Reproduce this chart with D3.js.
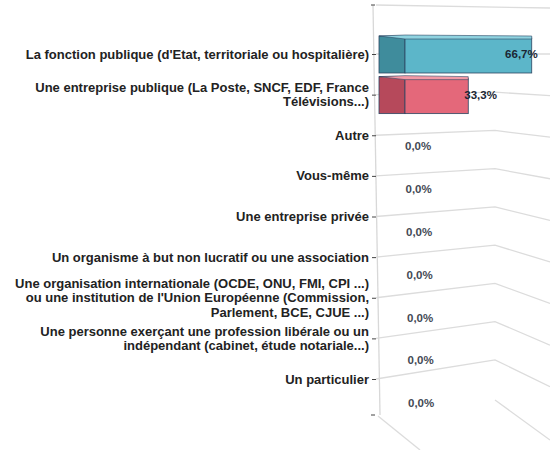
<!DOCTYPE html>
<html>
<head>
<meta charset="utf-8">
<script src="https://cdn.jsdelivr.net/npm/d3@7"></script>
<style>
  body { margin: 0; background: #fff; }
  text { font-family: "Liberation Sans", Arial, sans-serif; }
</style>
</head>
<body>
<div id="chart"></div>
<script>
// ========== Data ==========
const categories = [
  "La fonction publique (d'Etat, territoriale ou hospitalière)",
  "Une entreprise publique (La Poste, SNCF, EDF, France Télévisions...)",
  "Autre",
  "Vous-même",
  "Une entreprise privée",
  "Un organisme à but non lucratif ou une association",
  "Une organisation internationale (OCDE, ONU, FMI, CPI ...) ou une institution de l'Union Européenne (Commission, Parlement, BCE, CJUE ...)",
  "Une personne exerçant une profession libérale ou un indépendant (cabinet, étude notariale...)",
  "Un particulier"
];
const labelLines = [
  ["La fonction publique (d'Etat, territoriale ou hospitalière)"],
  ["Une entreprise publique (La Poste, SNCF, EDF, France", "Télévisions...)"],
  ["Autre"],
  ["Vous-même"],
  ["Une entreprise privée"],
  ["Un organisme à but non lucratif ou une association"],
  ["Une organisation internationale (OCDE, ONU, FMI, CPI ...)", "ou une institution de l'Union Européenne (Commission,", "Parlement, BCE, CJUE ...)"],
  ["Une personne exerçant une profession libérale ou un", "indépendant (cabinet, étude notariale...)"],
  ["Un particulier"]
];
const values = [66.7, 33.3, 0, 0, 0, 0, 0, 0, 0];
const barColors = ["#5cb6c9", "#e4687a"];
const sideColors = ["#3f8c9c", "#b6495b"];
const topColors = ["#8fd3e0", "#f29aa6"];

// ========== Setup ==========
const width = 550;
const height = 450;
const axisX = 376;
const sideW = 26;

const svg = d3.select("#chart").append("svg")
  .attr("width", width)
  .attr("height", height);

const y = d3.scalePoint().domain(categories).range([56, 381]);
const x = d3.scaleLinear().domain([0, 100]).range([axisX + sideW + 3, 595]);

const fmt = v => d3.format(".1f")(v).replace(".", ",") + "%";

// ========== Gridlines (perspective floor) ==========
const grid = svg.append("g").attr("fill", "none").attr("stroke", "#dcdcdc").attr("stroke-width", 1.3);

grid.append("line")
  .attr("x1", axisX).attr("y1", 5).attr("x2", width).attr("y2", 8);

categories.forEach((c, i) => {
  const y0 = y(c) - 2;
  const r = 2.4 * i;
  grid.append("polyline")
    .attr("points", [[axisX, y0], [495, y0 - r], [width, y0 - r + 1.4 * r]].join(" "));
});

grid.append("line")
  .attr("x1", axisX + 2).attr("y1", 416).attr("x2", 420).attr("y2", 450);
grid.append("line")
  .attr("x1", 495).attr("y1", 400).attr("x2", 550).attr("y2", 440);

// ========== Axis ==========
svg.append("line")
  .attr("x1", axisX - 3).attr("y1", 5)
  .attr("x2", axisX + 4).attr("y2", 415)
  .attr("stroke", "#d8d8d8").attr("stroke-width", 1.3);

const axis = svg.append("g")
  .attr("transform", `translate(${axisX},0)`)
  .call(d3.axisLeft(y).tickSize(4).tickSizeOuter(0).tickPadding(2).tickFormat(""));
axis.select(".domain").remove();
axis.selectAll(".tick line").attr("stroke", "#444").attr("transform", "translate(0,-2)");

// top / bottom end ticks
[5, 415].forEach(t => {
  svg.append("line")
    .attr("x1", axisX - 5).attr("x2", axisX - 1)
    .attr("y1", t).attr("y2", t)
    .attr("stroke", "#444");
});

// Category labels
categories.forEach((c, i) => {
  const lines = labelLines[i];
  const lh = 14.5;
  const startY = y(c) - 2 - (lines.length - 1) * lh / 2;
  const t = svg.append("text")
    .attr("text-anchor", "end")
    .attr("font-size", 13)
    .attr("font-weight", "bold")
    .attr("fill", "#222");
  lines.forEach((ln, k) => {
    t.append("tspan")
      .attr("x", axisX - 7)
      .attr("y", startY + k * lh)
      .attr("dy", "0.35em")
      .text(ln);
  });
});

// ========== Bars ==========
const barH = 38;
const data = categories.map((c, i) => ({ cat: c, value: values[i], i }));
const bars = svg.append("g").selectAll("g")
  .data(data.filter(d => d.value > 0))
  .join("g");

// side face
bars.append("rect")
  .attr("x", axisX + 3)
  .attr("y", d => y(d.cat) - 2 - barH / 2 + 1)
  .attr("width", sideW)
  .attr("height", barH - 1)
  .attr("fill", d => sideColors[d.i])
  .attr("stroke", "#2d4763")
  .attr("stroke-width", 0.8);

// front face
bars.append("rect")
  .attr("x", x(0))
  .attr("y", d => y(d.cat) - 2 - barH / 2 + 3)
  .attr("width", d => x(d.value) - x(0))
  .attr("height", barH - 3)
  .attr("fill", d => barColors[d.i])
  .attr("stroke", "#2d4763")
  .attr("stroke-width", 0.8);

// top face
bars.append("polygon")
  .attr("points", d => {
    const top = y(d.cat) - 2 - barH / 2;
    return [[axisX + 3, top + 1], [axisX + 3 + sideW, top], [x(d.value), top + 1], [x(d.value), top + 4], [x(0), top + 4]].join(" ");
  })
  .attr("fill", d => topColors[d.i])
  .attr("stroke", "#2d4763")
  .attr("stroke-width", 0.6);

// ========== Value labels ==========
svg.append("g").selectAll("text")
  .data(data)
  .join("text")
  .attr("x", d => d.value > 50 ? x(d.value) + 6 : d.value > 0 ? x(d.value) - 4 : 404 + d.i * 0.5)
  .attr("y", d => d.value > 0 ? y(d.cat) - 2 : y(d.cat) + 9 + 2.2 * (d.i - 2))
  .attr("dy", "0.35em")
  .attr("text-anchor", d => d.value > 50 ? "end" : "start")
  .attr("font-size", 11.5)
  .attr("font-weight", "bold")
  .attr("fill", d => d.value > 0 ? "#1b2633" : "#444a55")
  .text(d => fmt(d.value));
</script>
</body>
</html>
